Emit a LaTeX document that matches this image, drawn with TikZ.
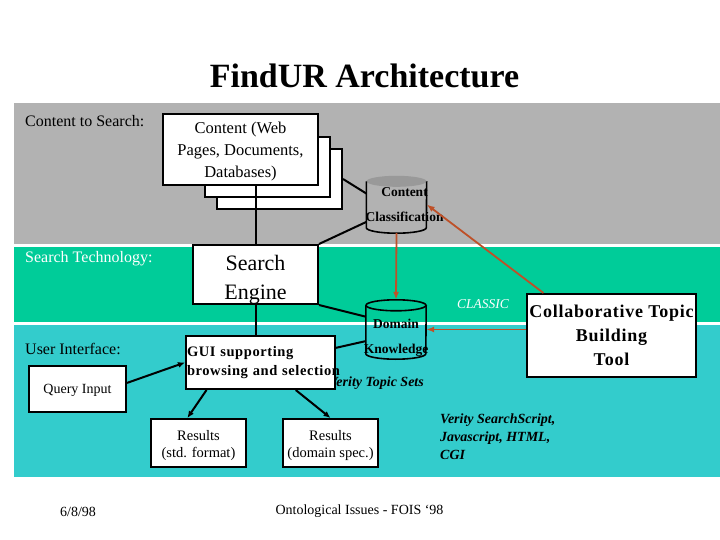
\documentclass[tikz,border=0pt]{standalone}
\usepackage{fontspec}
\setmainfont{Liberation Serif}
\newfontfamily\spacedserif[LetterSpace=4]{Liberation Serif}
\usetikzlibrary{arrows.meta}
\definecolor{bandgray}{HTML}{B2B2B2}
\definecolor{bandgreen}{HTML}{00CC99}
\definecolor{bandcyan}{HTML}{33CCCC}
\definecolor{storegray}{HTML}{999999}
\definecolor{feedbrown}{RGB}{190,80,40}
\newcommand{\pxfont}[2]{\fontsize{#1}{#2}\selectfont}
% pushes the first line of a box down
\newcommand{\toppad}[1]{\rule{0pt}{#1}}
% a store drawn round a named node: #1 node, #2 body fill, #3 end fill, #4 end outline
\newcommand{\drawstore}[4]{%
	\path[fill = #2] ([yshift = -5.5pt]#1.north west) -- ([yshift = 5.5pt]#1.south west)
		arc[start angle = 180, end angle = 360, x radius = 30pt, y radius = 5.5pt]
		-- ([yshift = -5.5pt]#1.north east) -- cycle;
	\path[fill = #3, draw = #4, line width = 1.6pt] ([yshift = -5.5pt]#1.north)
		ellipse[x radius = 30pt, y radius = 5.5pt];
	\draw[line width = 1.6pt] ([yshift = -5.5pt]#1.north west) -- ([yshift = 5.5pt]#1.south west)
		arc[start angle = 180, end angle = 360, x radius = 30pt, y radius = 5.5pt]
		-- ([yshift = -5.5pt]#1.north east);
}
\tikzset{
	architecture/.is family,
	architecture/.cd,
	band label/.style = {
		anchor = west,
		inner sep = 0pt,
		font = \pxfont{16}{19},
	},
	box/.style = {
		draw,
		fill = white,
		line width = 2pt,
		inner sep = 0pt,
	},
	store/.style = {
		minimum width = 60,
		inner sep = 0pt,
	},
	link/.style = {
		line width = 2pt,
		arrows = {-Latex[length = 7pt, width = 6pt]},
	},
	plain link/.style = {
		line width = 2pt,
	},
	feed/.style = {
		draw = feedbrown,
		line width = 1.8pt,
		arrows = {-Latex[length = 8pt, width = 6pt]},
	},
}

\begin{document}
\begin{tikzpicture}[
		x = 1pt, y = -1pt,
		storetext/.style = {
			font = \bfseries\pxfont{13.5}{25},
			align = center,
			inner sep = 0pt
		},
		verity/.style = {
			font = \bfseries\itshape\pxfont{14}{18},
			inner sep = 0pt
		}]
		\useasboundingbox (0, 0) rectangle (720, 540);
		% the three layers
		\fill[bandgray] (14, 103) rectangle (720, 244);
		\fill[bandgreen] (14, 247) rectangle (720, 322);
		\fill[bandcyan] (14, 325) rectangle (720, 477);
		\node[font = \bfseries\pxfont{34}{40}] (title) at (364.5, 76) {FindUR Architecture};
		\node[architecture/band label] (contentlabel) at (25, 121) {Content to Search:};
		\node[architecture/band label, text = white] (techlabel) at (25, 259) {Search Technology:};
		\node[architecture/band label] (uilabel) at (25, 349) {User Interface:};
		% content sheets
		\foreach \name/\x/\y in {contentback/279.5/179, contentmid/267.5/167}{
			\node[architecture/box, minimum width = 125, minimum height = 60] (\name) at (\x, \y) {};
		}
		\node[architecture/box, minimum width = 155, minimum height = 71, align = center,
			font = \pxfont{16.5}{22}] (content) at (240.5, 149.5) {\toppad{15.4pt}Content (Web\\Pages, Documents,\\Databases)};
		% stores
		\node[architecture/store, minimum height = 57] (classify) at (396.5, 204.5) {};
		\drawstore{classify}{bandgray}{storegray}{none}
		\node[storetext] (classifytext) at ([xshift = 8pt]classify.center) {Content\\Classification};
		\node[architecture/store, minimum height = 59] (knowledge) at (396, 329.5) {};
		\drawstore{knowledge}{none}{bandgreen}{black}
		\node[storetext] (knowledgetext) at (396, 337.5) {Domain\\Knowledge};
		\node[font = \itshape\pxfont{13.5}{16}, text = white, inner sep = 0pt] (classic) at (483, 304) {CLASSIC};
		% search technology and user interface
		\node[architecture/box, minimum width = 125, minimum height = 59, align = center,
			font = \pxfont{22}{29}] (search) at (255.5, 274.5) {\toppad{25pt}Search\\Engine};
		\node[verity, anchor = east] (topicsets) at (424, 383) {Verity Topic Sets};
		\node[architecture/box, text width = 147, inner xsep = 1pt, minimum height = 53, align = left,
			font = \spacedserif\bfseries\pxfont{14.5}{19}] (gui) at (260.5, 362.5)
			{GUI supporting\\\mbox{browsing and selection}\vphantom{g}\\[-6pt]};
		\node[architecture/box, minimum width = 97, minimum height = 46,
			font = \pxfont{14}{17}] (query) at (77.5, 389) {\toppad{13pt}Query Input};
		\foreach \name/\x/\kind in {resultsstd/198.5/std. format, resultsdomain/330.5/domain spec.}{
			\node[architecture/box, minimum width = 95, minimum height = 48, align = center,
				font = \pxfont{14.5}{17}] (\name) at (\x, 443) {\toppad{15.7pt}Results\\(\kind)};
		}
		\node[architecture/box, minimum width = 169, minimum height = 83, align = center,
			font = \spacedserif\bfseries\pxfont{18}{24}] (collab) at (611.5, 335.5) {Collaborative Topic\\Building\\Tool};
		\node[verity, anchor = west, align = left] (tools) at (440, 437) {Verity SearchScript,\\Javascript, HTML,\\CGI};
		% connections
		\draw[architecture/plain link] (contentback.east) -- (classify.160);
		\draw[architecture/plain link] (classify.210) -- (search.north east);
		\draw[architecture/plain link] (search.north |- content.south) -- (search.north);
		\draw[architecture/plain link] (search.south) -- (search.south |- gui.north);
		\draw[architecture/plain link] (search.south east) -- (knowledge.157);
		\draw[architecture/plain link] (gui.11) -- (knowledge.201);
		\draw[architecture/link] (query.7) -- (gui.west);
		\draw[architecture/link] (gui.207) -- (resultsstd.114);
		\draw[architecture/link] (gui.322) -- (resultsdomain.north);
		\draw[architecture/feed] (classify.south) -- (knowledge.north);
		\draw[architecture/feed] (collab.148) -- (classify.east);
		\draw[architecture/feed] (collab.west |- knowledge.east) -- (knowledge.east);
		% footer
		\node[font = \pxfont{14}{17}] (date) at (78, 512) {6/8/98};
		\node[font = \pxfont{14}{17}] (venue) at (359.5, 511) {Ontological Issues - FOIS ‘98};
	\end{tikzpicture}
\end{document}
